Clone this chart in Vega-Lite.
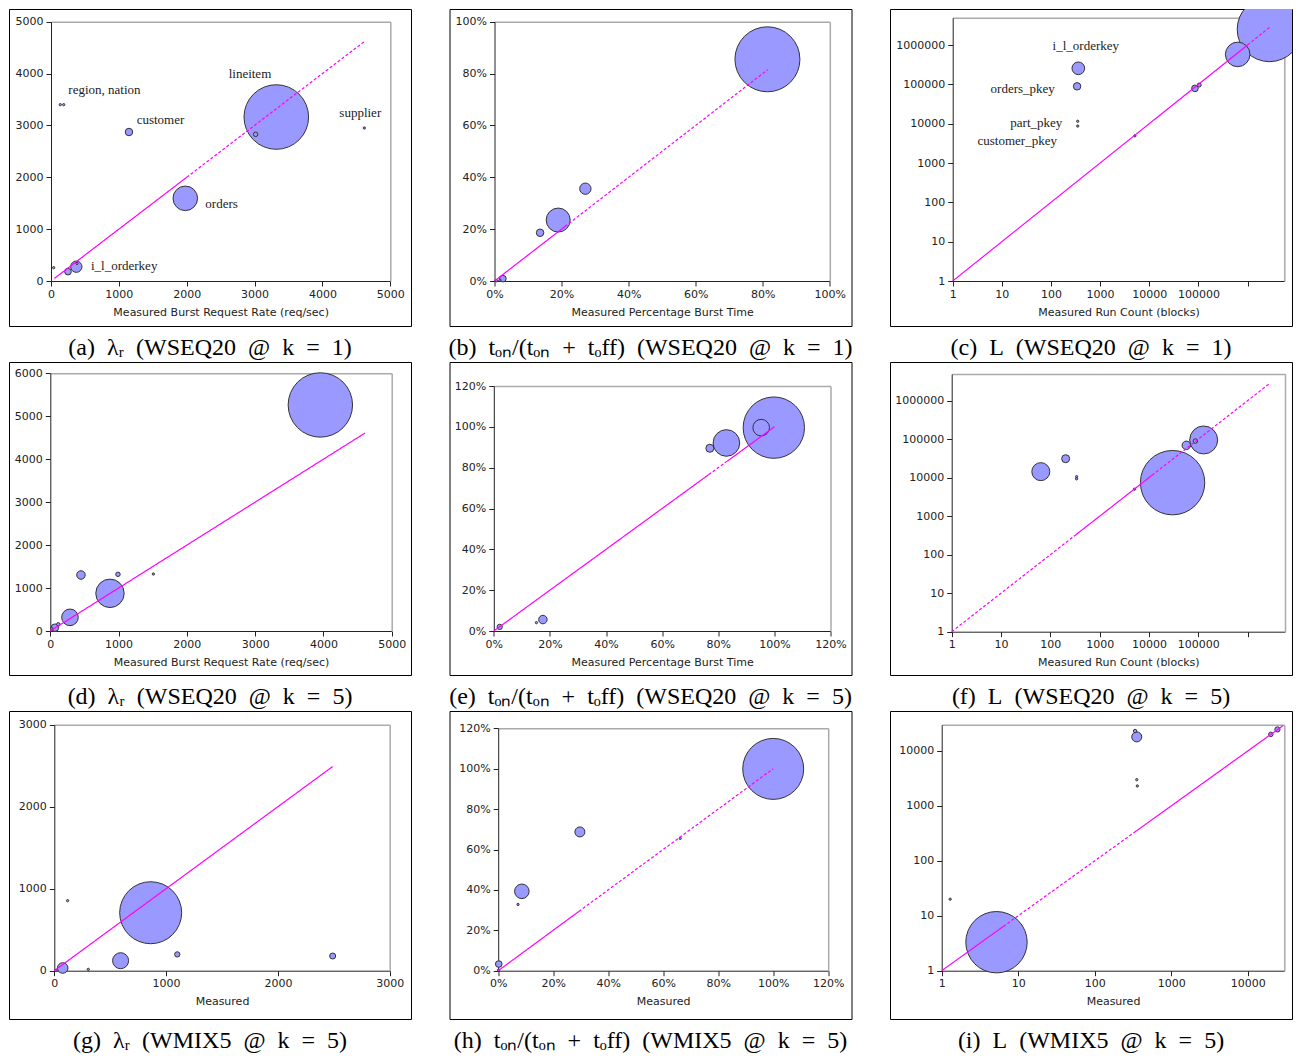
{
"$schema":"https://vega.github.io/schema/vega-lite/v6.json",
"background":"white",
"padding":{"left":8,"top":8,"right":0,"bottom":0},
"columns":3,
"spacing":{"row":0,"column":35.5},
"config":{
 "view":{"stroke":"#000000","strokeWidth":1},
 "axis":{"grid":false,"labelFont":"DejaVu Sans","labelFontSize":11,"labelColor":"#222222","titleFont":"DejaVu Sans","titleFontSize":11,"titleFontWeight":"normal","titleColor":"#222222","domainColor":"#222222","tickColor":"#222222","tickSize":5,"labelPadding":2,"titlePadding":7,"labelFlush":false,"labelOverlap":false},
 "axisY":{"labelPadding":3},
 "title":{"font":"Liberation Serif","fontSize":24,"fontWeight":"normal","color":"#000000","anchor":"middle"}
},
"datasets":{
 "a_pts":[{"x":3320,"y":3162,"v":1043},{"x":1979,"y":1594,"v":151},{"x":373,"y":276,"v":32},{"x":1149,"y":2873,"v":14},{"x":250,"y":180,"v":11},{"x":3016,"y":2828,"v":5},{"x":137,"y":3400,"v":1.3},{"x":187,"y":3400,"v":1.3},{"x":4617,"y":2950,"v":1.3},{"x":39,"y":257,"v":1.3},{"x":383,"y":340,"v":1.3}],
 "a_line":[{"seg":1,"style":"solid","x":50,"y":50},{"seg":1,"style":"solid","x":2000,"y":2000},{"seg":2,"style":"dashed","x":2000,"y":2000},{"seg":2,"style":"dashed","x":4620,"y":4620}],
 "a_lbl":[{"x":255,"y":3676,"label":"region, nation"},{"x":1262,"y":3098,"label":"customer"},{"x":2618,"y":3997,"label":"lineitem"},{"x":4249,"y":3233,"label":"supplier"},{"x":2274,"y":1485,"label":"orders"},{"x":589,"y":289,"label":"i_l_orderkey"}],
 "b_pts":[{"x":0.814,"y":0.855,"v":1056},{"x":0.19,"y":0.235,"v":144},{"x":0.271,"y":0.356,"v":32},{"x":0.136,"y":0.186,"v":14},{"x":0.025,"y":0.009,"v":11},{"x":0.006,"y":0.001,"v":1.3},{"x":0.016,"y":0.003,"v":1.3}],
 "b_line":[{"seg":1,"style":"solid","x":0,"y":0},{"seg":1,"style":"solid","x":0.21,"y":0.21},{"seg":2,"style":"dashed","x":0.21,"y":0.21},{"seg":2,"style":"dashed","x":0.815,"y":0.815}],
 "c_pts":[{"x":2800000,"y":2500000,"v":1043},{"x":630000,"y":577000,"v":151},{"x":360,"y":256000,"v":40},{"x":340,"y":89000,"v":14},{"x":85000,"y":79000,"v":11},{"x":104000,"y":96000,"v":4},{"x":5100,"y":4900,"v":1.3},{"x":350,"y":11500,"v":1.3},{"x":350,"y":8700,"v":1.3}],
 "c_line":[{"seg":1,"style":"solid","x":1,"y":1},{"seg":1,"style":"solid","x":1000000,"y":1000000},{"seg":2,"style":"dashed","x":1000000,"y":1000000},{"seg":2,"style":"dashed","x":2800000,"y":2800000}],
 "c_lbl":[{"x":108,"y":940000,"label":"i_l_orderkey"},{"x":5.9,"y":74000,"label":"orders_pkey"},{"x":14.9,"y":10600,"label":"part_pkey"},{"x":3.2,"y":3600,"label":"customer_pkey"}],
 "d_pts":[{"x":3955,"y":5263,"v":1037},{"x":874,"y":877,"v":202},{"x":288,"y":318,"v":69},{"x":449,"y":1304,"v":18},{"x":68,"y":78,"v":14},{"x":991,"y":1320,"v":5},{"x":117,"y":155,"v":3},{"x":1509,"y":1327,"v":1.3},{"x":20,"y":62,"v":1.3}],
 "d_line":[{"seg":1,"style":"solid","x":0,"y":0},{"seg":1,"style":"solid","x":4610,"y":4610}],
 "e_pts":[{"x":0.998,"y":0.996,"v":942},{"x":0.829,"y":0.921,"v":177},{"x":0.953,"y":0.996,"v":69},{"x":0.175,"y":0.056,"v":18},{"x":0.77,"y":0.895,"v":16},{"x":0.021,"y":0.02,"v":7},{"x":0.152,"y":0.041,"v":1.3}],
 "e_line":[{"seg":1,"style":"solid","x":0,"y":0},{"seg":1,"style":"solid","x":0.766,"y":0.766},{"seg":2,"style":"dashed","x":0.766,"y":0.766},{"seg":2,"style":"dashed","x":0.832,"y":0.832},{"seg":3,"style":"solid","x":0.832,"y":0.832},{"seg":3,"style":"solid","x":1.0,"y":1.0}],
 "f_pts":[{"x":30000,"y":7400,"v":1037},{"x":128000,"y":95000,"v":196},{"x":64,"y":14300,"v":81},{"x":57000,"y":69000,"v":18},{"x":204,"y":31000,"v":16},{"x":87000,"y":89000,"v":5},{"x":340,"y":10600,"v":1.3},{"x":340,"y":9300,"v":1.3},{"x":5070,"y":5000,"v":1.3}],
 "f_line":[{"seg":1,"style":"dashed","x":1,"y":1},{"seg":1,"style":"dashed","x":330,"y":330},{"seg":2,"style":"solid","x":330,"y":330},{"seg":2,"style":"solid","x":11500,"y":11500},{"seg":3,"style":"dashed","x":11500,"y":11500},{"seg":3,"style":"dashed","x":2800000,"y":2800000}],
 "g_pts":[{"x":862,"y":707,"v":961},{"x":593,"y":122,"v":64},{"x":75,"y":33,"v":28},{"x":2490,"y":179,"v":9},{"x":1100,"y":199,"v":7},{"x":119,"y":854,"v":1.3},{"x":304,"y":16,"v":1.3},{"x":15,"y":4,"v":1.3}],
 "g_line":[{"seg":1,"style":"solid","x":0,"y":0},{"seg":1,"style":"solid","x":2490,"y":2490}],
 "h_pts":[{"x":1.0,"y":0.999,"v":930},{"x":0.086,"y":0.393,"v":53},{"x":0.297,"y":0.687,"v":25},{"x":0.002,"y":0.033,"v":11},{"x":0.072,"y":0.328,"v":1.3},{"x":0.662,"y":0.655,"v":1.3},{"x":0.001,"y":0.002,"v":1.3}],
 "h_line":[{"seg":1,"style":"solid","x":0,"y":0},{"seg":1,"style":"solid","x":0.293,"y":0.293},{"seg":2,"style":"dashed","x":0.293,"y":0.293},{"seg":2,"style":"dashed","x":1.0,"y":1.0}],
 "i_pts":[{"x":5.2,"y":3.3,"v":942},{"x":354,"y":18000,"v":25},{"x":24400,"y":24600,"v":7},{"x":20000,"y":20000,"v":5},{"x":337,"y":23000,"v":3},{"x":354,"y":3000,"v":1.3},{"x":360,"y":2300,"v":1.3},{"x":1.29,"y":20,"v":1.3}],
 "i_line":[{"seg":1,"style":"solid","x":1,"y":1},{"seg":1,"style":"solid","x":6.4,"y":6.4},{"seg":2,"style":"dashed","x":6.4,"y":6.4},{"seg":2,"style":"dashed","x":320,"y":320},{"seg":3,"style":"solid","x":320,"y":320},{"seg":3,"style":"solid","x":29000,"y":29000}]
},
"concat":[
 {"width":402,"height":317,
  "title":{"text":"(a)\u2002λᵣ\u2002(WSEQ20\u2002@\u2002k\u2002=\u20021)","orient":"bottom","offset":10},
  "layer":[
   {"data":{"name":"a_pts"},"mark":{"type":"circle","fill":"#9999ff","stroke":"#333333","strokeWidth":1,"opacity":1,"fillOpacity":1,"clip":true},
    "encoding":{"x":{"field":"x","type":"quantitative","scale":{"domain":[0,5000],"range":[42,381.3],"nice":false,"zero":false},"axis":{"orient":"top","offset":-12.7,"ticks":false,"labels":false,"title":null,"domainColor":"#aaaaaa","domainWidth":1.5}},
     "y":{"field":"y","type":"quantitative","scale":{"domain":[0,5000],"range":[272,12.7],"nice":false,"zero":false},"axis":{"orient":"right","offset":-20.7,"ticks":false,"labels":false,"title":null,"domainColor":"#aaaaaa","domainWidth":1.5}},
     "size":{"field":"v","type":"quantitative","scale":{"domain":[0,1100],"range":[0,4400]},"legend":null}}},
   {"data":{"name":"a_line"},"mark":{"type":"line","color":"#ff00ff","strokeWidth":1.2},
    "encoding":{"x":{"field":"x","type":"quantitative","scale":{"domain":[0,5000],"range":[42,381.3],"nice":false,"zero":false},"axis":{"orient":"bottom","offset":-45,"values":[0,1000,2000,3000,4000,5000],"format":"d","title":"Measured Burst Request Rate (req/sec)"}},
     "y":{"field":"y","type":"quantitative","scale":{"domain":[0,5000],"range":[272,12.7],"nice":false,"zero":false},"axis":{"orient":"left","offset":-42,"values":[0,1000,2000,3000,4000,5000],"format":"d","title":null}},
     "detail":{"field":"seg","type":"nominal"},
     "strokeDash":{"field":"style","type":"nominal","scale":{"domain":["solid","dashed"],"range":[[1,0],[3,2]]},"legend":null}}},
   {"data":{"name":"a_lbl"},"mark":{"type":"text","font":"Liberation Serif","fontSize":13,"align":"left","baseline":"middle","color":"#222222"},
    "encoding":{"x":{"field":"x","type":"quantitative","scale":{"domain":[0,5000],"range":[42,381.3],"nice":false,"zero":false},"axis":null},
     "y":{"field":"y","type":"quantitative","scale":{"domain":[0,5000],"range":[272,12.7],"nice":false,"zero":false},"axis":null},
     "text":{"field":"label","type":"nominal"}}}
  ]},
 {"width":402,"height":317,
  "title":{"text":"(b)\u2002tₒₙ/(tₒₙ\u2002+\u2002tₒff)\u2002(WSEQ20\u2002@\u2002k\u2002=\u20021)","orient":"bottom","offset":10},
  "layer":[
   {"data":{"name":"b_pts"},"mark":{"type":"circle","fill":"#9999ff","stroke":"#333333","strokeWidth":1,"opacity":1,"fillOpacity":1,"clip":true},
    "encoding":{"x":{"field":"x","type":"quantitative","scale":{"domain":[0,1],"range":[45,380.3],"nice":false,"zero":false},"axis":{"orient":"top","offset":-12.7,"ticks":false,"labels":false,"title":null,"domainColor":"#aaaaaa","domainWidth":1.5}},
     "y":{"field":"y","type":"quantitative","scale":{"domain":[0,1],"range":[272,12.7],"nice":false,"zero":false},"axis":{"orient":"right","offset":-21.7,"ticks":false,"labels":false,"title":null,"domainColor":"#aaaaaa","domainWidth":1.5}},
     "size":{"field":"v","type":"quantitative","scale":{"domain":[0,1100],"range":[0,4400]},"legend":null}}},
   {"data":{"name":"b_line"},"mark":{"type":"line","color":"#ff00ff","strokeWidth":1.2},
    "encoding":{"x":{"field":"x","type":"quantitative","scale":{"domain":[0,1],"range":[45,380.3],"nice":false,"zero":false},"axis":{"orient":"bottom","offset":-45,"values":[0,0.2,0.4,0.6,0.8,1],"format":".0%","title":"Measured Percentage Burst Time"}},
     "y":{"field":"y","type":"quantitative","scale":{"domain":[0,1],"range":[272,12.7],"nice":false,"zero":false},"axis":{"orient":"left","offset":-45,"values":[0,0.2,0.4,0.6,0.8,1],"format":".0%","title":null}},
     "detail":{"field":"seg","type":"nominal"},
     "strokeDash":{"field":"style","type":"nominal","scale":{"domain":["solid","dashed"],"range":[[1,0],[3,2]]},"legend":null}}}
  ]},
 {"width":402,"height":317,
  "title":{"text":"(c)\u2002L\u2002(WSEQ20\u2002@\u2002k\u2002=\u20021)","orient":"bottom","offset":10},
  "layer":[
   {"data":{"name":"c_pts"},"mark":{"type":"circle","fill":"#9999ff","stroke":"#333333","strokeWidth":1,"opacity":1,"fillOpacity":1,"clip":true},
    "encoding":{"x":{"field":"x","type":"quantitative","scale":{"type":"log","domain":[1,5600000],"range":[62.7,394.3],"nice":false},"axis":{"orient":"top","offset":-8.7,"ticks":false,"labels":false,"title":null,"domainColor":"#aaaaaa","domainWidth":1.5}},
     "y":{"field":"y","type":"quantitative","scale":{"type":"log","domain":[1,4950000],"range":[272,8.7],"nice":false},"axis":{"orient":"right","offset":-7.7,"ticks":false,"labels":false,"title":null,"domainColor":"#aaaaaa","domainWidth":1.5}},
     "size":{"field":"v","type":"quantitative","scale":{"domain":[0,1100],"range":[0,4400]},"legend":null}}},
   {"data":{"name":"c_line"},"mark":{"type":"line","color":"#ff00ff","strokeWidth":1.2},
    "encoding":{"x":{"field":"x","type":"quantitative","scale":{"type":"log","domain":[1,5600000],"range":[62.7,394.3],"nice":false},"axis":{"orient":"bottom","offset":-45,"values":[1,10,100,1000,10000,100000,1000000],"format":"d","labelExpr":"datum.value >= 1000000 ? '' : datum.label","title":"Measured Run Count (blocks)"}},
     "y":{"field":"y","type":"quantitative","scale":{"type":"log","domain":[1,4950000],"range":[272,8.7],"nice":false},"axis":{"orient":"left","offset":-62.7,"values":[1,10,100,1000,10000,100000,1000000],"format":"d","title":null}},
     "detail":{"field":"seg","type":"nominal"},
     "strokeDash":{"field":"style","type":"nominal","scale":{"domain":["solid","dashed"],"range":[[1,0],[3,2]]},"legend":null}}},
   {"data":{"name":"c_lbl"},"mark":{"type":"text","font":"Liberation Serif","fontSize":13,"align":"left","baseline":"middle","color":"#222222"},
    "encoding":{"x":{"field":"x","type":"quantitative","scale":{"type":"log","domain":[1,5600000],"range":[62.7,394.3],"nice":false},"axis":null},
     "y":{"field":"y","type":"quantitative","scale":{"type":"log","domain":[1,4950000],"range":[272,8.7],"nice":false},"axis":null},
     "text":{"field":"label","type":"nominal"}}}
  ]},
 {"width":402,"height":313,
  "title":{"text":"(d)\u2002λᵣ\u2002(WSEQ20\u2002@\u2002k\u2002=\u20025)","orient":"bottom","offset":10},
  "layer":[
   {"data":{"name":"d_pts"},"mark":{"type":"circle","fill":"#9999ff","stroke":"#333333","strokeWidth":1,"opacity":1,"fillOpacity":1,"clip":true},
    "encoding":{"x":{"field":"x","type":"quantitative","scale":{"domain":[0,5000],"range":[41.3,382.7],"nice":false,"zero":false},"axis":{"orient":"top","offset":-11.3,"ticks":false,"labels":false,"title":null,"domainColor":"#aaaaaa","domainWidth":1.5}},
     "y":{"field":"y","type":"quantitative","scale":{"domain":[0,6000],"range":[269,11.3],"nice":false,"zero":false},"axis":{"orient":"right","offset":-19.3,"ticks":false,"labels":false,"title":null,"domainColor":"#aaaaaa","domainWidth":1.5}},
     "size":{"field":"v","type":"quantitative","scale":{"domain":[0,1100],"range":[0,4400]},"legend":null}}},
   {"data":{"name":"d_line"},"mark":{"type":"line","color":"#ff00ff","strokeWidth":1.2},
    "encoding":{"x":{"field":"x","type":"quantitative","scale":{"domain":[0,5000],"range":[41.3,382.7],"nice":false,"zero":false},"axis":{"orient":"bottom","offset":-44,"values":[0,1000,2000,3000,4000,5000],"format":"d","title":"Measured Burst Request Rate (req/sec)"}},
     "y":{"field":"y","type":"quantitative","scale":{"domain":[0,6000],"range":[269,11.3],"nice":false,"zero":false},"axis":{"orient":"left","offset":-41.3,"values":[0,1000,2000,3000,4000,5000,6000],"format":"d","title":null}},
     "detail":{"field":"seg","type":"nominal"},
     "strokeDash":{"field":"style","type":"nominal","scale":{"domain":["solid","dashed"],"range":[[1,0],[3,2]]},"legend":null}}}
  ]},
 {"width":402,"height":313,
  "title":{"text":"(e)\u2002tₒₙ/(tₒₙ\u2002+\u2002tₒff)\u2002(WSEQ20\u2002@\u2002k\u2002=\u20025)","orient":"bottom","offset":10},
  "layer":[
   {"data":{"name":"e_pts"},"mark":{"type":"circle","fill":"#9999ff","stroke":"#333333","strokeWidth":1,"opacity":1,"fillOpacity":1,"clip":true},
    "encoding":{"x":{"field":"x","type":"quantitative","scale":{"domain":[0,1.2],"range":[44.3,381],"nice":false,"zero":false},"axis":{"orient":"top","offset":-24,"ticks":false,"labels":false,"title":null,"domainColor":"#aaaaaa","domainWidth":1.5}},
     "y":{"field":"y","type":"quantitative","scale":{"domain":[0,1.2],"range":[269,24],"nice":false,"zero":false},"axis":{"orient":"right","offset":-21,"ticks":false,"labels":false,"title":null,"domainColor":"#aaaaaa","domainWidth":1.5}},
     "size":{"field":"v","type":"quantitative","scale":{"domain":[0,1100],"range":[0,4400]},"legend":null}}},
   {"data":{"name":"e_line"},"mark":{"type":"line","color":"#ff00ff","strokeWidth":1.2},
    "encoding":{"x":{"field":"x","type":"quantitative","scale":{"domain":[0,1.2],"range":[44.3,381],"nice":false,"zero":false},"axis":{"orient":"bottom","offset":-44,"values":[0,0.2,0.4,0.6,0.8,1,1.2],"format":".0%","title":"Measured Percentage Burst Time"}},
     "y":{"field":"y","type":"quantitative","scale":{"domain":[0,1.2],"range":[269,24],"nice":false,"zero":false},"axis":{"orient":"left","offset":-44.3,"values":[0,0.2,0.4,0.6,0.8,1,1.2],"format":".0%","title":null}},
     "detail":{"field":"seg","type":"nominal"},
     "strokeDash":{"field":"style","type":"nominal","scale":{"domain":["solid","dashed"],"range":[[1,0],[3,2]]},"legend":null}}}
  ]},
 {"width":402,"height":313,
  "title":{"text":"(f)\u2002L\u2002(WSEQ20\u2002@\u2002k\u2002=\u20025)","orient":"bottom","offset":10},
  "layer":[
   {"data":{"name":"f_pts"},"mark":{"type":"circle","fill":"#9999ff","stroke":"#333333","strokeWidth":1,"opacity":1,"fillOpacity":1,"clip":true},
    "encoding":{"x":{"field":"x","type":"quantitative","scale":{"type":"log","domain":[1,5700000],"range":[61.7,395],"nice":false},"axis":{"orient":"top","offset":-12,"ticks":false,"labels":false,"title":null,"domainColor":"#aaaaaa","domainWidth":1.5}},
     "y":{"field":"y","type":"quantitative","scale":{"type":"log","domain":[1,4900000],"range":[269.7,12],"nice":false},"axis":{"orient":"right","offset":-7,"ticks":false,"labels":false,"title":null,"domainColor":"#aaaaaa","domainWidth":1.5}},
     "size":{"field":"v","type":"quantitative","scale":{"domain":[0,1100],"range":[0,4400]},"legend":null}}},
   {"data":{"name":"f_line"},"mark":{"type":"line","color":"#ff00ff","strokeWidth":1.2},
    "encoding":{"x":{"field":"x","type":"quantitative","scale":{"type":"log","domain":[1,5700000],"range":[61.7,395],"nice":false},"axis":{"orient":"bottom","offset":-43.3,"values":[1,10,100,1000,10000,100000,1000000],"format":"d","labelExpr":"datum.value >= 1000000 ? '' : datum.label","title":"Measured Run Count (blocks)"}},
     "y":{"field":"y","type":"quantitative","scale":{"type":"log","domain":[1,4900000],"range":[269.7,12],"nice":false},"axis":{"orient":"left","offset":-61.7,"values":[1,10,100,1000,10000,100000,1000000],"format":"d","title":null}},
     "detail":{"field":"seg","type":"nominal"},
     "strokeDash":{"field":"style","type":"nominal","scale":{"domain":["solid","dashed"],"range":[[1,0],[3,2]]},"legend":null}}}
  ]},
 {"width":402,"height":308,
  "title":{"text":"(g)\u2002λᵣ\u2002(WMIX5\u2002@\u2002k\u2002=\u20025)","orient":"bottom","offset":10},
  "layer":[
   {"data":{"name":"g_pts"},"mark":{"type":"circle","fill":"#9999ff","stroke":"#333333","strokeWidth":1,"opacity":1,"fillOpacity":1,"clip":true},
    "encoding":{"x":{"field":"x","type":"quantitative","scale":{"domain":[0,3000],"range":[45.3,380.7],"nice":false,"zero":false},"axis":{"orient":"top","offset":-13.7,"ticks":false,"labels":false,"title":null,"domainColor":"#aaaaaa","domainWidth":1.5}},
     "y":{"field":"y","type":"quantitative","scale":{"domain":[0,3000],"range":[259.7,13.7],"nice":false,"zero":false},"axis":{"orient":"right","offset":-21.3,"ticks":false,"labels":false,"title":null,"domainColor":"#aaaaaa","domainWidth":1.5}},
     "size":{"field":"v","type":"quantitative","scale":{"domain":[0,1100],"range":[0,4400]},"legend":null}}},
   {"data":{"name":"g_line"},"mark":{"type":"line","color":"#ff00ff","strokeWidth":1.2},
    "encoding":{"x":{"field":"x","type":"quantitative","scale":{"domain":[0,3000],"range":[45.3,380.7],"nice":false,"zero":false},"axis":{"orient":"bottom","offset":-48.3,"values":[0,1000,2000,3000],"format":"d","title":"Measured"}},
     "y":{"field":"y","type":"quantitative","scale":{"domain":[0,3000],"range":[259.7,13.7],"nice":false,"zero":false},"axis":{"orient":"left","offset":-45.3,"values":[0,1000,2000,3000],"format":"d","title":null}},
     "detail":{"field":"seg","type":"nominal"},
     "strokeDash":{"field":"style","type":"nominal","scale":{"domain":["solid","dashed"],"range":[[1,0],[3,2]]},"legend":null}}}
  ]},
 {"width":402,"height":308,
  "title":{"text":"(h)\u2002tₒₙ/(tₒₙ\u2002+\u2002tₒff)\u2002(WMIX5\u2002@\u2002k\u2002=\u20025)","orient":"bottom","offset":10},
  "layer":[
   {"data":{"name":"h_pts"},"mark":{"type":"circle","fill":"#9999ff","stroke":"#333333","strokeWidth":1,"opacity":1,"fillOpacity":1,"clip":true},
    "encoding":{"x":{"field":"x","type":"quantitative","scale":{"domain":[0,1.2],"range":[48.7,378.7],"nice":false,"zero":false},"axis":{"orient":"top","offset":-17.3,"ticks":false,"labels":false,"title":null,"domainColor":"#aaaaaa","domainWidth":1.5}},
     "y":{"field":"y","type":"quantitative","scale":{"domain":[0,1.2],"range":[259.7,17.3],"nice":false,"zero":false},"axis":{"orient":"right","offset":-23.3,"ticks":false,"labels":false,"title":null,"domainColor":"#aaaaaa","domainWidth":1.5}},
     "size":{"field":"v","type":"quantitative","scale":{"domain":[0,1100],"range":[0,4400]},"legend":null}}},
   {"data":{"name":"h_line"},"mark":{"type":"line","color":"#ff00ff","strokeWidth":1.2},
    "encoding":{"x":{"field":"x","type":"quantitative","scale":{"domain":[0,1.2],"range":[48.7,378.7],"nice":false,"zero":false},"axis":{"orient":"bottom","offset":-48.3,"values":[0,0.2,0.4,0.6,0.8,1,1.2],"format":".0%","title":"Measured"}},
     "y":{"field":"y","type":"quantitative","scale":{"domain":[0,1.2],"range":[259.7,17.3],"nice":false,"zero":false},"axis":{"orient":"left","offset":-48.7,"values":[0,0.2,0.4,0.6,0.8,1,1.2],"format":".0%","title":null}},
     "detail":{"field":"seg","type":"nominal"},
     "strokeDash":{"field":"style","type":"nominal","scale":{"domain":["solid","dashed"],"range":[[1,0],[3,2]]},"legend":null}}}
  ]},
 {"width":402,"height":308,
  "title":{"text":"(i)\u2002L\u2002(WMIX5\u2002@\u2002k\u2002=\u20025)","orient":"bottom","offset":10},
  "layer":[
   {"data":{"name":"i_pts"},"mark":{"type":"circle","fill":"#9999ff","stroke":"#333333","strokeWidth":1,"opacity":1,"fillOpacity":1,"clip":true},
    "encoding":{"x":{"field":"x","type":"quantitative","scale":{"type":"log","domain":[1,30000],"range":[51.7,394.3],"nice":false},"axis":{"orient":"top","offset":-13.7,"ticks":false,"labels":false,"title":null,"domainColor":"#aaaaaa","domainWidth":1.5}},
     "y":{"field":"y","type":"quantitative","scale":{"type":"log","domain":[1,30000],"range":[259.7,13.7],"nice":false},"axis":{"orient":"right","offset":-7.7,"ticks":false,"labels":false,"title":null,"domainColor":"#aaaaaa","domainWidth":1.5}},
     "size":{"field":"v","type":"quantitative","scale":{"domain":[0,1100],"range":[0,4400]},"legend":null}}},
   {"data":{"name":"i_line"},"mark":{"type":"line","color":"#ff00ff","strokeWidth":1.2},
    "encoding":{"x":{"field":"x","type":"quantitative","scale":{"type":"log","domain":[1,30000],"range":[51.7,394.3],"nice":false},"axis":{"orient":"bottom","offset":-48.3,"values":[1,10,100,1000,10000],"format":"d","title":"Measured"}},
     "y":{"field":"y","type":"quantitative","scale":{"type":"log","domain":[1,30000],"range":[259.7,13.7],"nice":false},"axis":{"orient":"left","offset":-51.7,"values":[1,10,100,1000,10000],"format":"d","title":null}},
     "detail":{"field":"seg","type":"nominal"},
     "strokeDash":{"field":"style","type":"nominal","scale":{"domain":["solid","dashed"],"range":[[1,0],[3,2]]},"legend":null}}}
  ]}
]
}
